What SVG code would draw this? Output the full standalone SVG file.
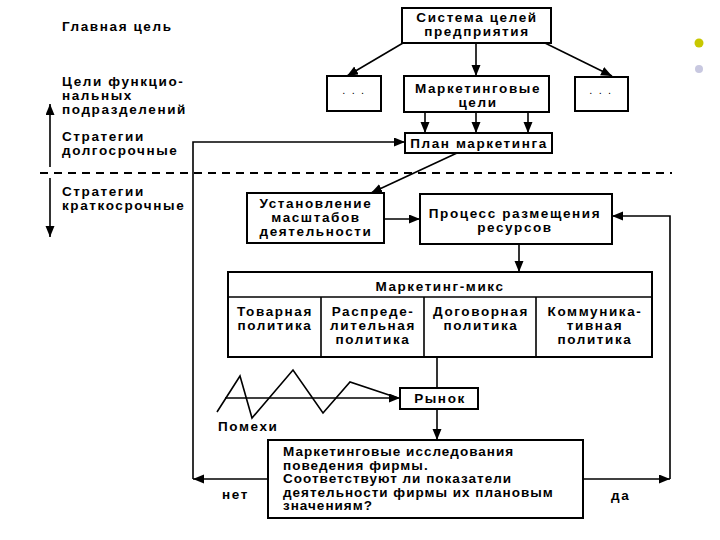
<svg xmlns="http://www.w3.org/2000/svg" width="720" height="540" viewBox="0 0 720 540">
<defs>
<marker id="ah" markerWidth="12" markerHeight="10" refX="11" refY="4.5" orient="auto" markerUnits="userSpaceOnUse">
<path d="M0,0 L11,4.5 L0,9 z" fill="#000"/>
</marker>
<style>
.t{font-family:"Liberation Sans",Arial,sans-serif;font-size:13.5px;font-weight:bold;fill:#000;letter-spacing:1.6px}
.r{letter-spacing:1px}
.c{text-anchor:middle}
.b{fill:#fff;stroke:#000;stroke-width:2}
.l{fill:none;stroke:#000;stroke-width:1.6}
.a{fill:none;stroke:#000;stroke-width:1.6;marker-end:url(#ah)}
</style>
</defs>
<rect width="720" height="540" fill="#fff"/>

<g id="left-labels">
<text class="t" x="62" y="31">Главная цель</text>
<text class="t" x="62" y="86">Цели функцио-</text>
<text class="t" x="62" y="100">нальных</text>
<text class="t" x="62" y="114">подразделений</text>
<text class="t" x="62" y="141">Стратегии</text>
<text class="t" x="62" y="155">долгосрочные</text>
<text class="t" x="62" y="196">Стратегии</text>
<text class="t" x="62" y="210">краткосрочные</text>
<line class="a" x1="50" y1="167" x2="50" y2="104"/>
<line class="a" x1="50" y1="178" x2="50" y2="237"/>
<line x1="40" y1="173" x2="672" y2="173" stroke="#000" stroke-width="1.8" stroke-dasharray="8,6"/>
</g>

<g id="connectors">
<line class="a" x1="403" y1="43" x2="347" y2="76"/>
<line class="a" x1="476" y1="43" x2="476" y2="76"/>
<line class="a" x1="545" y1="43" x2="612" y2="76"/>
<line class="a" x1="425" y1="112" x2="425" y2="133"/>
<line class="a" x1="476" y1="112" x2="476" y2="133"/>
<line class="a" x1="528" y1="112" x2="528" y2="133"/>
<line class="a" x1="457" y1="153" x2="371" y2="193"/>
<line class="a" x1="384" y1="219" x2="420" y2="219"/>
<line class="a" x1="519" y1="244" x2="519" y2="272"/>
<line class="l" x1="437" y1="357" x2="437" y2="388"/>
<line class="a" x1="437" y1="409" x2="437" y2="440"/>
<line class="a" x1="225" y1="398" x2="400" y2="398"/>
<polyline class="l" points="217,412 240,376 252,418 293,370 323,413 350,382 398,398"/>
<line class="a" x1="268" y1="479" x2="193" y2="479"/>
<polyline class="a" points="193,479 193,142 405,142"/>
<line class="a" x1="583" y1="479" x2="670" y2="479"/>
<polyline class="a" points="670,479 670,216 612,216"/>
<text class="t" x="222" y="499">нет</text>
<text class="t" x="611" y="500">да</text>
<text class="t" x="218" y="431">Помехи</text>
</g>

<g id="system">
<rect class="b" x="402" y="8" width="149" height="35"/>
<text class="t c" x="477" y="22">Система целей</text>
<text class="t c" x="477" y="36">предприятия</text>
</g>

<g id="dots-left">
<rect class="b" x="327" y="76" width="54" height="35"/>
<text class="t c" x="354" y="94" style="font-weight:normal;font-size:11px">. . .</text>
</g>

<g id="marketing-goals">
<rect class="b" x="404" y="76" width="145" height="36"/>
<text class="t c" x="478" y="92.5">Маркетинговые</text>
<text class="t c" x="478" y="106.5">цели</text>
</g>

<g id="dots-right">
<rect class="b" x="575" y="77" width="53" height="34"/>
<text class="t c" x="601" y="94" style="font-weight:normal;font-size:11px">. . .</text>
</g>

<g id="plan">
<rect class="b" x="405" y="133" width="147" height="20"/>
<text class="t c" x="479" y="148">План маркетинга</text>
</g>

<g id="scale">
<rect class="b" x="247" y="193" width="137" height="50"/>
<text class="t c" x="316" y="208">Установление</text>
<text class="t c" x="316" y="222">масштабов</text>
<text class="t c" x="316" y="236">деятельности</text>
</g>

<g id="resources">
<rect class="b" x="420" y="194" width="192" height="50"/>
<text class="t c" x="515" y="218">Процесс размещения</text>
<text class="t c" x="515" y="232">ресурсов</text>
</g>

<g id="mix">
<rect class="b" x="228" y="272" width="424" height="85"/>
<line class="l" x1="228" y1="297" x2="652" y2="297" stroke-width="2"/>
<line class="l" x1="321" y1="297" x2="321" y2="357" stroke-width="2"/>
<line class="l" x1="424" y1="297" x2="424" y2="357" stroke-width="2"/>
<line class="l" x1="536" y1="297" x2="536" y2="357" stroke-width="2"/>
<text class="t c" x="440" y="291">Маркетинг-микс</text>
<text class="t c" x="275" y="316">Товарная</text>
<text class="t c" x="275" y="330">политика</text>
<text class="t c" x="373" y="316">Распреде-</text>
<text class="t c" x="373" y="330">лительная</text>
<text class="t c" x="373" y="344">политика</text>
<text class="t c" x="481" y="316">Договорная</text>
<text class="t c" x="481" y="330">политика</text>
<text class="t c" x="595" y="316">Коммуника-</text>
<text class="t c" x="595" y="330">тивная</text>
<text class="t c" x="595" y="344">политика</text>
</g>

<g id="market">
<rect class="b" x="400" y="388" width="78" height="21"/>
<text class="t c" x="440" y="403">Рынок</text>
</g>

<g id="research">
<rect class="b" x="268" y="440" width="315" height="78"/>
<text class="t r" x="283" y="456">Маркетинговые исследования</text>
<text class="t r" x="283" y="469.5">поведения фирмы.</text>
<text class="t r" x="283" y="483">Соответствуют ли показатели</text>
<text class="t r" x="283" y="496.5">деятельности фирмы их плановым</text>
<text class="t r" x="283" y="510">значениям?</text>
</g>

<g id="bullets">
<circle cx="699" cy="43" r="4.5" fill="#c8c800"/>
<circle cx="699" cy="69" r="4" fill="#c8c8e0"/>
</g>
</svg>
